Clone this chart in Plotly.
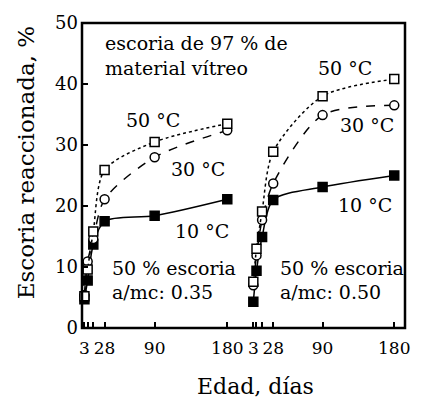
import plotly.graph_objects as go

# Edad de curado (días)
dias = [3, 7, 14, 28, 90, 180]

# Escoria reaccionada (%) — a/mc 0.35
a035_10 = [4.7, 7.8, 13.7, 17.5, 18.4, 21.1]
a035_30 = [5.4, 10.9, 14.6, 21.1, 28.0, 32.4]
a035_50 = [5.2, 9.6, 15.8, 25.9, 30.5, 33.5]

# Escoria reaccionada (%) — a/mc 0.50
a050_10 = [4.3, 9.4, 14.9, 21.0, 23.1, 25.0]
a050_30 = [7.0, 11.9, 17.7, 23.7, 34.9, 36.5]
a050_50 = [7.6, 13.0, 19.1, 28.9, 38.0, 40.8]

tick_vals = [3, 7, 14, 28, 90, 180]
tick_text = ["3", "", "", "28", "90", "180"]
y_ticks = [0, 10, 20, 30, 40, 50]

SERIF = "DejaVu Serif"

fig = go.Figure()


def add_series(x_axis, values, symbol, fill, dash):
    fig.add_trace(go.Scatter(
        x=dias, y=values, xaxis=x_axis, yaxis="y",
        mode="lines+markers",
        line=dict(color="black", width=1.5, dash=dash, shape="spline", smoothing=0.8),
        marker=dict(symbol=symbol, size=9, color=fill,
                    line=dict(color="black", width=1.5)),
        cliponaxis=False, showlegend=False,
    ))


for axis, s10, s30, s50 in (("x", a035_10, a035_30, a035_50),
                            ("x2", a050_10, a050_30, a050_50)):
    add_series(axis, s10, "square", "black", "solid")
    add_series(axis, s30, "circle", "white", "dash")
    add_series(axis, s50, "square", "white", "dot")

axis_common = dict(
    tickmode="array", tickvals=tick_vals, ticktext=tick_text,
    ticks="inside", ticklen=6, tickwidth=1.5, tickcolor="black",
    showgrid=False, zeroline=False, showline=False,
    tickfont=dict(family=SERIF, size=17, color="black"),
    tickangle=0, ticklabelstandoff=8,
    anchor="y",
)

PX_L, PX_R, PX_T, PX_B = 82, 409, 22, 328
W = PX_R - PX_L
H = PX_B - PX_T


def px(x):
    return (x - PX_L) / W


def py(y):
    return (PX_B - y) / H


fig.update_layout(
    width=422, height=402,
    margin=dict(l=PX_L, r=422 - PX_R, t=PX_T, b=402 - PX_B),
    paper_bgcolor="white", plot_bgcolor="white",
    font=dict(family=SERIF, color="black"),
    xaxis=dict(domain=[0, 0.523], range=[0, 209.3], **axis_common),
    xaxis2=dict(domain=[0.523, 1], range=[0, 193.5], **axis_common),
    yaxis=dict(
        range=[0, 50], tickvals=y_ticks,
        ticks="inside", ticklen=6, tickwidth=1.5, tickcolor="black",
        showgrid=False, zeroline=False, showline=False,
        tickfont=dict(family=SERIF, size=18, color="black"),
        ticklabelstandoff=3,
    ),
)

# marco común a los dos paneles
fig.add_shape(type="rect", xref="paper", yref="paper", x0=0, x1=1, y0=0, y1=1,
              line=dict(color="black", width=2.5), layer="above")

labels = [
    ("escoria de 97 % de", 103, 42, "left"),
    ("material vítreo", 103, 67, "left"),
    ("50 °C", 154, 119, "center"),
    ("30 °C", 199, 168, "center"),
    ("10 °C", 203, 231, "center"),
    ("50 % escoria", 110, 268, "left"),
    ("a/mc: 0.35", 110, 292, "left"),
    ("50 °C", 348, 67, "center"),
    ("30 °C", 371, 124, "center"),
    ("10 °C", 368, 205, "center"),
    ("50 % escoria", 280, 268, "left"),
    ("a/mc: 0.50", 280, 292, "left"),
]
for text, x, y, anchor in labels:
    fig.add_annotation(text=text, xref="paper", yref="paper", x=px(x), y=py(y),
                       xanchor=anchor, yanchor="middle", showarrow=False,
                       font=dict(family=SERIF, size=19, color="black"))

# títulos de los ejes
fig.add_annotation(text="Edad, días", xref="paper", yref="paper",
                   x=px(258), y=py(387), xanchor="center", yanchor="middle",
                   showarrow=False, font=dict(family=SERIF, size=22, color="black"))
fig.add_annotation(text="Escoria reaccionada, %", xref="paper", yref="paper",
                   x=px(25), y=py(162), xanchor="center", yanchor="middle",
                   textangle=-90, showarrow=False,
                   font=dict(family=SERIF, size=23, color="black"))

fig.write_html("out.html")
